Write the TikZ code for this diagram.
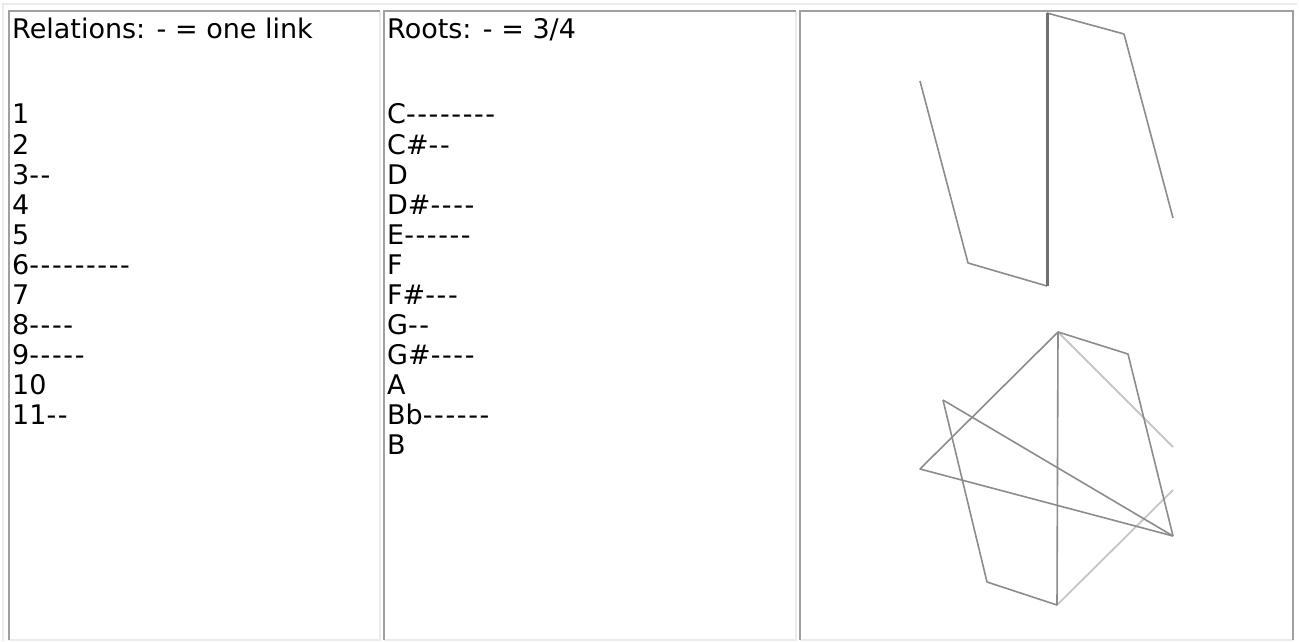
\documentclass[tikz,border=0pt]{standalone}
\usepackage{fontspec}
\setmainfont{DejaVu Sans}

\definecolor{cellline}{HTML}{A0A0A0}
\definecolor{cellshade}{HTML}{EBEBEB}
\definecolor{figline}{HTML}{8C8C8C}
\definecolor{figlight}{HTML}{C6C6C6}
\definecolor{figdark}{HTML}{707070}

% a row of single hyphens, one box each so they stay hyphens
\newcommand\hys[1]{\ifnum#1>0 \foreach\k in {1,...,#1}{\mbox{-}\kern1.6pt}\fi}

\tikzset{
  celltext/.style={anchor=base west, inner sep=0pt, font=\fontsize{27}{30}\selectfont},
  darkedge/.style={draw=cellline, line width=2pt},
  lightedge/.style={draw=cellshade, line width=1.5pt},
  figedge/.style={draw=figline, line width=1.6pt, line join=round},
  figfaint/.style={draw=figlight, line width=1.8pt},
  figbold/.style={draw=figdark, line width=3pt}
}

\begin{document}
\begin{tikzpicture}[x=1pt, y=-1pt]
    \useasboundingbox[fill=white] (0,0) rectangle (1299,642);

    % table frame
    \draw[lightedge] (3,641) -- (3,4) -- (1297,4);
    \draw[lightedge] (9,640) -- (380,640) -- (380,11);
    \draw[lightedge] (384,640) -- (796,640) -- (796,11);
    \draw[lightedge] (800,640) -- (1293,640);
    \draw[darkedge] (9,640) -- (9,11) -- (380,11);
    \draw[darkedge] (384,640) -- (384,11) -- (796,11);
    \draw[darkedge] (800,640) -- (800,11) -- (1293,11) -- (1293,640);

    % relations column
    \node[celltext] (relhead) at (12,39) {Relations: \mbox{-} = one link};
    \foreach \lab/\n [count=\i] in {1/0, 2/0, 3/2, 4/0, 5/0, 6/9, 7/0, 8/4, 9/5, 10/0, 11/2}
        \node[celltext] (rel\i) at (12,{94+30*\i}) {\lab\hys{\n}};

    % roots column
    \node[celltext] (roothead) at (387,39) {Roots: \mbox{-} = 3/4};
    \foreach \lab/\n [count=\i] in {C/8, C\#/2, D/0, D\#/4, E/6, F/0, F\#/3, G/2, G\#/4, A/0, Bb/6, B/0}
        \node[celltext] (root\i) at (387,{94+30*\i}) {\lab\hys{\n}};

    % upper figure
    \coordinate (ua) at (920,81);
    \coordinate (ub) at (968,263);
    \coordinate (uc) at (1047,286);
    \coordinate (ud) at (1047,13);
    \coordinate (ue) at (1124,34);
    \coordinate (uf) at (1173,218);
    \draw[figedge] (ua) -- (ub) -- (uc);
    \draw[figedge] (ud) -- (ue) -- (uf);
    \draw[figbold] (uc) -- (ud);

    % lower figure
    \coordinate (top) at (1058,332);
    \coordinate (bot) at (1057,605);
    \coordinate (lft) at (920,469);
    \coordinate (ulft) at (943,400);
    \coordinate (llft) at (987,582);
    \coordinate (urgt) at (1128,354);
    \coordinate (rgt) at (1173,536);
    \coordinate (cuthi) at (1173,447);
    \coordinate (cutlo) at (1173,490);
    \draw[figfaint] (top) -- (cuthi);
    \draw[figfaint] (bot) -- (cutlo);
    \draw[figedge] (top) -- (lft) -- (rgt);
    \draw[figedge] (ulft) -- (rgt);
    \draw[figedge] (ulft) -- (llft) -- (bot);
    \draw[figedge] (top) -- (urgt) -- (rgt);
    \draw[figedge] (top) -- (bot);
\end{tikzpicture}
\end{document}
